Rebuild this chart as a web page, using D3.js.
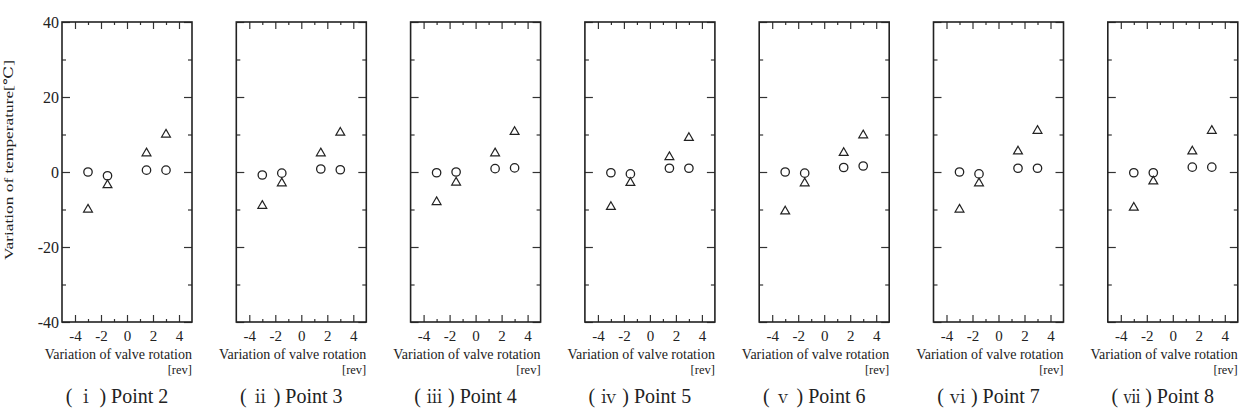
<!DOCTYPE html>
<html>
<head>
  <meta charset="utf-8">
  <title>Variation of temperature vs valve rotation</title>
  <script src="https://d3js.org/d3.v7.min.js"></script>
  <style>
    body { margin: 0; background: #fff; }
    svg text { font-family: "Liberation Serif", "Times New Roman", "DejaVu Serif", serif; fill: #222; }
  </style>
</head>
<body>
  <svg width="1241" height="417"></svg>

  <script>
    // valve rotation steps (same for every panel)
    var rotations = [-3, -1.5, 1.5, 3];

    var panelNames = ["Point 2", "Point 3", "Point 4", "Point 5", "Point 6", "Point 7", "Point 8"];
    var romans = ["ⅰ", "ⅱ", "ⅲ", "ⅳ", "ⅴ", "ⅵ", "ⅶ"];

    // circles
    var circleValues = [
      [0, -1, 0.5, 0.5],
      [-0.8, -0.3, 0.8, 0.6],
      [-0.2, 0, 0.9, 1.1],
      [-0.2, -0.5, 1, 1],
      [0, -0.3, 1.2, 1.6],
      [0, -0.5, 1, 1],
      [-0.2, -0.2, 1.3, 1.3]
    ];

    // triangles
    var triangleValues = [
      [-10, -3.5, 5, 10],
      [-9, -3, 5, 10.5],
      [-8, -2.8, 5, 10.7],
      [-9.3, -2.9, 4, 9.1],
      [-10.5, -3, 5.1, 9.8],
      [-10, -3, 5.5, 11],
      [-9.5, -2.5, 5.5, 11]
    ];

    var xMajor = [-4, -2, 0, 2, 4],
        xMinor = [-3, -1, 1, 3],
        yMajor = [-40, -20, 0, 20, 40],
        yMinor = [-30, -10, 10, 30];

    var svg = d3.select("svg");
    var plotTop = 22, h = 300, w = 130, left0 = 62, step = 174.3;
    var serif = "'Liberation Serif', 'Times New Roman', serif";

    var y = d3.scaleLinear().domain([-40, 40]).range([plotTop + h, plotTop]);

    var tri = d3.symbol().type(d3.symbolTriangle).size(34);
    var plain = function(d) { return String(d); };

    panelNames.forEach(function(name, i) {
      var x0 = left0 + i * step;
      var x = d3.scaleLinear().domain([-5, 5]).range([x0, x0 + w]);
      var g = svg.append("g");

      // minor ticks
      g.append("g").attr("transform", "translate(0," + (plotTop + h) + ")")
        .call(d3.axisBottom(x).tickValues(xMinor).tickSize(-3).tickFormat(""));
      g.append("g").attr("transform", "translate(0," + plotTop + ")")
        .call(d3.axisTop(x).tickValues(xMinor).tickSize(-3).tickFormat(""));
      g.append("g").attr("transform", "translate(" + x0 + ",0)")
        .call(d3.axisLeft(y).tickValues(yMinor).tickSize(-4).tickFormat(""));
      g.append("g").attr("transform", "translate(" + (x0 + w) + ",0)")
        .call(d3.axisRight(y).tickValues(yMinor).tickSize(-4).tickFormat(""));

      // major ticks
      var bottomAx = g.append("g").attr("transform", "translate(0," + (plotTop + h) + ")")
        .call(d3.axisBottom(x).tickValues(xMajor).tickSize(-7).tickPadding(5).tickFormat(plain));
      bottomAx.selectAll("text").style("font-size", "15px").attr("dy", "0.9em");
      g.append("g").attr("transform", "translate(0," + plotTop + ")")
        .call(d3.axisTop(x).tickValues(xMajor).tickSize(-7).tickFormat(""));
      var leftAx = g.append("g").attr("transform", "translate(" + x0 + ",0)")
        .call(d3.axisLeft(y).tickValues(yMajor).tickSize(-8).tickPadding(3)
          .tickFormat(i === 0 ? plain : ""));
      leftAx.selectAll("text").style("font-size", "16px");
      g.append("g").attr("transform", "translate(" + (x0 + w) + ",0)")
        .call(d3.axisRight(y).tickValues(yMajor).tickSize(-8).tickFormat(""));

      g.selectAll(".domain").remove();
      g.selectAll("g").attr("font-family", serif);
      g.selectAll(".tick line").attr("stroke", "#333").attr("stroke-width", 1.2);
      g.selectAll(".tick text").attr("fill", "#222");

      // frame
      g.append("rect")
        .attr("x", x0).attr("y", plotTop)
        .attr("width", w).attr("height", h)
        .attr("fill", "none").attr("stroke", "#222").attr("stroke-width", 1.6);

      // circles
      g.selectAll("circle.c")
        .data(circleValues[i])
        .enter().append("circle")
        .attr("class", "c")
        .attr("cx", function(d, j) { return x(rotations[j]); })
        .attr("cy", function(d) { return y(d); })
        .attr("r", 4.2)
        .attr("fill", "none").attr("stroke", "#222").attr("stroke-width", 1.3);

      // triangles
      g.selectAll("path.t")
        .data(triangleValues[i])
        .enter().append("path")
        .attr("class", "t")
        .attr("d", tri)
        .attr("transform", function(d, j) { return "translate(" + x(rotations[j]) + "," + y(d) + ")"; })
        .attr("fill", "none").attr("stroke", "#222").attr("stroke-width", 1.2);

      // x title
      g.append("text")
        .attr("x", x0 + w).attr("y", 359)
        .attr("text-anchor", "end")
        .attr("font-family", serif)
        .style("font-size", "14px")
        .text("Variation of valve rotation");
      g.append("text")
        .attr("x", x0 + w).attr("y", 374)
        .attr("text-anchor", "end")
        .attr("font-family", serif)
        .style("font-size", "12.5px")
        .text("[rev]");

      // panel caption
      var cap = g.append("text")
        .attr("x", x0 + w / 2 - 10).attr("y", 403)
        .attr("text-anchor", "middle")
        .attr("font-family", serif)
        .style("font-size", "20px");
      cap.append("tspan").text("( ");
      cap.append("tspan").style("font-family", "'Noto Serif CJK JP', 'Noto Sans CJK JP'").style("font-size", "17px").text(romans[i]);
      cap.append("tspan").text(" ) " + name);
    });

    // y title
    svg.append("text")
      .attr("transform", "translate(13," + (plotTop + h / 2 - 12) + ") rotate(-90)")
      .attr("text-anchor", "middle")
      .attr("font-family", serif)
      .attr("textLength", 200)
      .attr("lengthAdjust", "spacingAndGlyphs")
      .style("font-size", "13px")
      .text("Variation of temperature[℃]");
  </script>
</body>
</html>
